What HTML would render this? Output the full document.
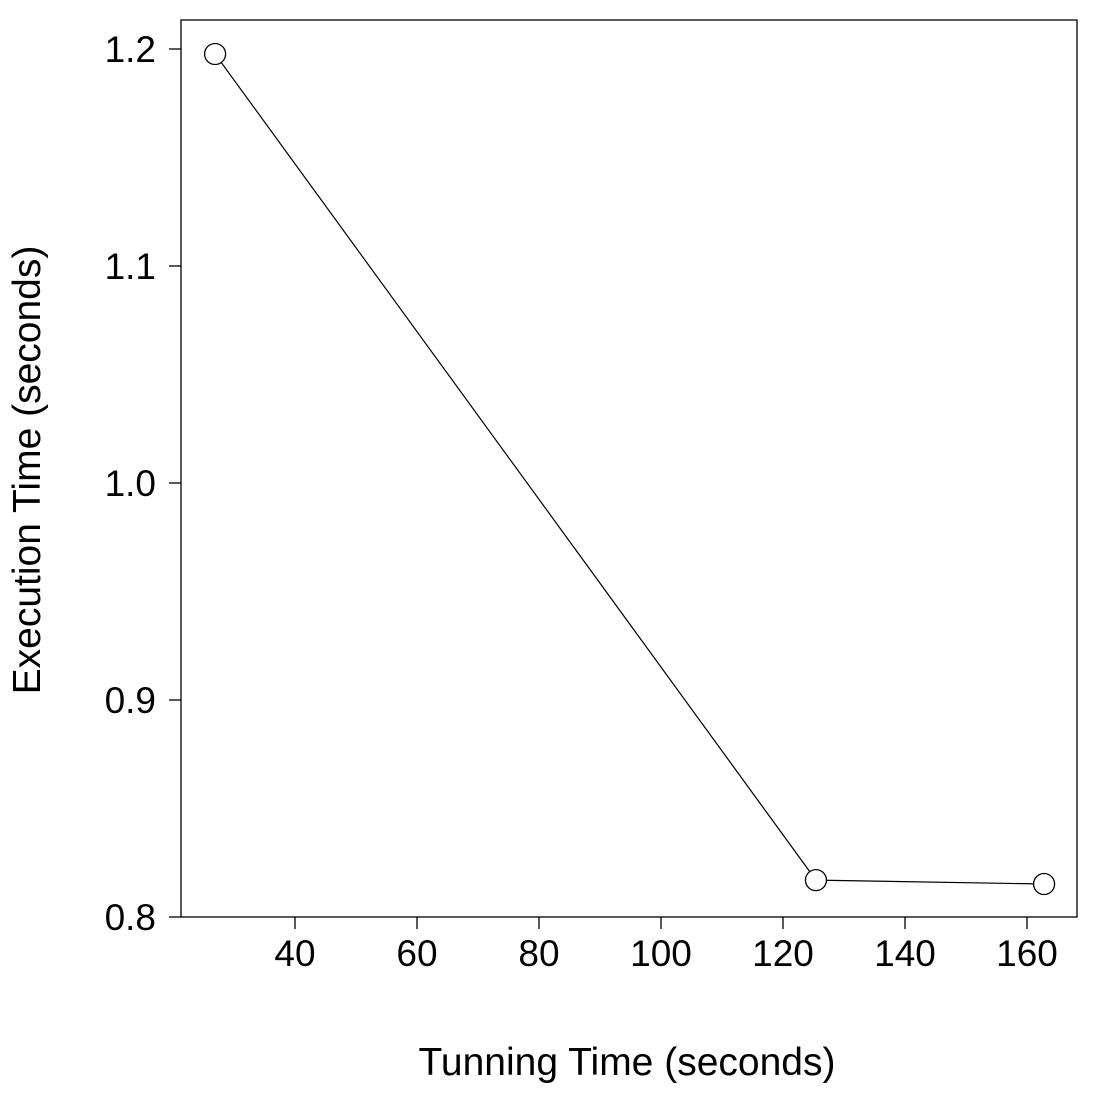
<!DOCTYPE html>
<html>
<head>
<meta charset="utf-8">
<style>
  html, body { margin: 0; padding: 0; background: #fff; }
  svg { display: block; }
  text { font-family: "Liberation Sans", sans-serif; fill: #000; }
</style>
</head>
<body>
<svg id="chart" width="1100" height="1100" viewBox="0 0 1100 1100" xmlns="http://www.w3.org/2000/svg">
  <rect x="181" y="20" width="896" height="897" fill="none" stroke="#000" stroke-width="1.3"/>
  <g id="xaxis"></g>
  <g id="yaxis"></g>
  <g id="series"></g>
  <text x="627" y="1075" font-size="39" text-anchor="middle">Tunning Time (seconds)</text>
  <text x="0" y="0" font-size="39" text-anchor="middle" transform="translate(40,470) rotate(-90)">Execution Time (seconds)</text>
</svg>
<script>
const tuningTime = [26.9, 125.4, 162.8];
const execTime = [1.1977, 0.817, 0.8152];
const xTicks = [40, 60, 80, 100, 120, 140, 160];
const yTicks = [0.8, 0.9, 1.0, 1.1, 1.2];
const yTickLabels = ["0.8", "0.9", "1.0", "1.1", "1.2"];

const NS = "http://www.w3.org/2000/svg";
function xs(v) { return 295 + (v - 40) * 6.1; }
function ys(v) { return 917 - (v - 0.8) * 2170; }
function mk(tag, attrs, parent) {
  const e = document.createElementNS(NS, tag);
  for (const k in attrs) e.setAttribute(k, attrs[k]);
  parent.appendChild(e);
  return e;
}
const xg = document.getElementById("xaxis");
const yg = document.getElementById("yaxis");
const sg = document.getElementById("series");

xTicks.forEach(t => {
  const l = mk("line", {x1: xs(t), x2: xs(t), y1: 917, y2: 929, stroke: "#000", "stroke-width": 1.3}, xg);
  
  
  const tx = mk("text", {x: xs(t), y: 966, "font-size": 37, "text-anchor": "middle"}, xg);
  tx.textContent = String(t);
  
  
});
yTicks.forEach((t, i) => {
  const l = mk("line", {x1: 169, x2: 181, y1: ys(t), y2: ys(t), stroke: "#000", "stroke-width": 1.3}, yg);
  
  
  const tx = mk("text", {x: 156, y: ys(t) + 13, "font-size": 37, "text-anchor": "end"}, yg);
  tx.textContent = yTickLabels[i];
  
  
});

const pts = tuningTime.map((v, i) => xs(v) + "," + ys(execTime[i])).join(" ");
const line = mk("polyline", {points: pts, fill: "none", stroke: "#000", "stroke-width": 1.2}, sg);


tuningTime.forEach((v, i) => {
  const c = mk("circle", {cx: xs(v), cy: ys(execTime[i]), r: 10.5, fill: "#fff", stroke: "#000", "stroke-width": 1.3}, sg);
  
  
});
</script>
</body>
</html>
